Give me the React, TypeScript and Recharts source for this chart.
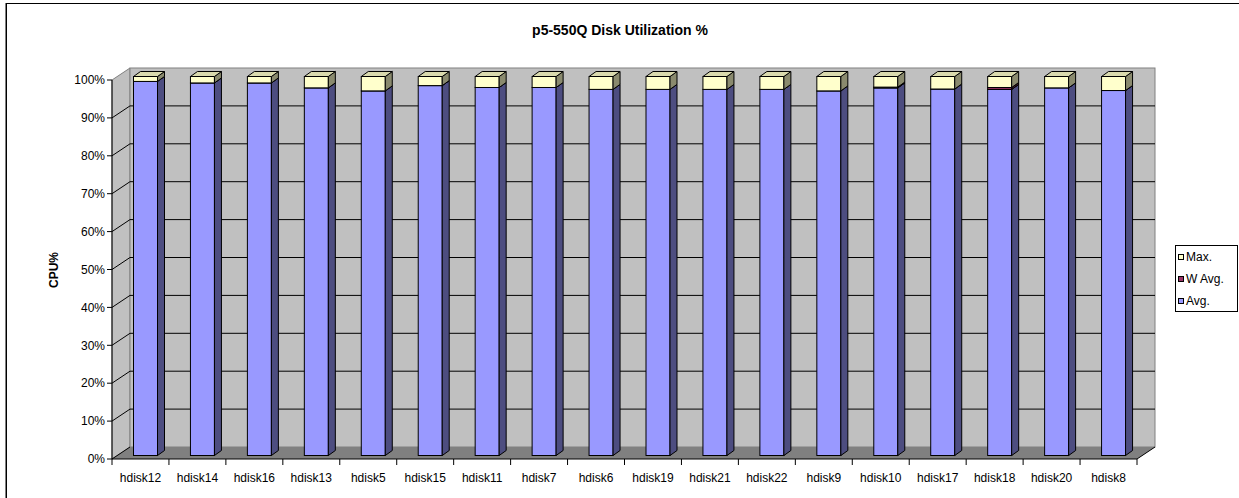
import React from 'react';
import { BarChart, Bar, XAxis, YAxis, CartesianGrid, Customized } from 'recharts';

const categories = ['hdisk12', 'hdisk14', 'hdisk16', 'hdisk13', 'hdisk5', 'hdisk15', 'hdisk11', 'hdisk7', 'hdisk6', 'hdisk19', 'hdisk21', 'hdisk22', 'hdisk9', 'hdisk10', 'hdisk17', 'hdisk18', 'hdisk20', 'hdisk8'];
const avgValues = [98.7, 98.3, 98.3, 97.0, 96.2, 97.6, 97.1, 97.1, 96.6, 96.6, 96.6, 96.6, 96.2, 97.0, 96.7, 96.6, 97.0, 96.3];
const wavgValues = [0, 0, 0, 0, 0, 0, 0, 0, 0, 0, 0, 0, 0, 0.2, 0, 0.5, 0, 0];
const maxValues = [1.3, 1.7, 1.7, 3.0, 3.8, 2.4, 2.9, 2.9, 3.4, 3.4, 3.4, 3.4, 3.8, 2.8, 3.3, 2.9, 3.0, 3.7];
const yTicks = [0, 10, 20, 30, 40, 50, 60, 70, 80, 90, 100];

const seriesInfo = [
  { key: 'max', name: 'Max.', front: '#FFFFCC', side: '#8A8A6E', top: '#DADAAE' },
  { key: 'wavg', name: 'W Avg.', front: '#993366', side: '#4D1A33', top: '#7A2952' },
  { key: 'avg', name: 'Avg.', front: '#9999FF', side: '#4D4D80', top: '#7A7ACC' },
];

const data = categories.map((name, i) => ({ name, avg: avgValues[i], wavg: wavgValues[i], max: maxValues[i] }));

const W = 1239;
const H = 498;
const YAXIS_W = 60;
const XAXIS_H = 30;
const X0 = 112;
const X1 = 1137;
const Y0 = 80;
const Y1 = 459;
const M = { top: Y0, right: W - X1, bottom: H - Y1 - XAXIS_H, left: X0 - YAXIS_W };
const DX = 18;
const DY = 12;
const BX = 5.5;
const BY = 3.5;
const SD = 7;
const SE = 5;
const FONT = '"Liberation Sans", Arial, sans-serif';
const FS = 12;

const Walls = () => (
  <g>
    <polygon points={`${X0},${Y0} ${X0 + DX},${Y0 - DY} ${X0 + DX},${Y1 - DY} ${X0},${Y1}`} fill="#C0C0C0" stroke="#808080" />
    <rect x={X0 + DX} y={Y0 - DY} width={X1 - X0} height={Y1 - Y0} fill="#C0C0C0" stroke="#808080" />
    <polygon points={`${X0},${Y1} ${X0 + DX},${Y1 - DY} ${X1 + DX},${Y1 - DY} ${X1},${Y1}`} fill="#808080" stroke="none" />
    <line x1={X1} y1={Y1} x2={X1 + DX} y2={Y1 - DY} stroke="#000" />
    <line x1={X0} y1={Y1} x2={X0 + DX} y2={Y1 - DY} stroke="#000" />
  </g>
);

const Overlay = () => (
  <g fontFamily={FONT}>
    <rect x={6} y={3.5} width={1300} height={600} fill="none" stroke="#000" strokeWidth={1} />
    <line x1={6.5} y1={3} x2={6.5} y2={H} stroke="#000" strokeWidth={1} />
    <text x={620} y={35} textAnchor="middle" fontWeight="bold" fontSize={14} fill="#000">p5-550Q Disk Utilization %</text>
    <text x={58} y={270} textAnchor="middle" fontWeight="bold" fontSize={FS} fill="#000" transform="rotate(-90 58 270)">CPU%</text>
    <rect x={1175.5} y={245.5} width={62} height={66} fill="#fff" stroke="#000" />
    {seriesInfo.map((s, i) => (
      <g key={s.key}>
        <rect x={1178.5} y={254.5 + i * 22} width={5} height={5} fill={s.front} stroke="#000" />
        <text x={1186} y={257 + i * 22} dy="0.355em" fontSize={FS} fill="#000">{s.name}</text>
      </g>
    ))}
  </g>
);

const makeShape = (front: string, side: string, top: string) => (props: any) => {
  const { x, y, width, height } = props;
  if (!height || height <= 0) return <g />;
  const sx = x + BX;
  const sy = y - BY;
  return (
    <g>
      <rect x={sx} y={sy} width={width} height={height} fill={front} stroke="#000" strokeWidth={1} />
      <polygon points={`${sx + width},${sy} ${sx + width + SD},${sy - SE} ${sx + width + SD},${sy + height - SE} ${sx + width},${sy + height}`} fill={side} stroke="#000" strokeWidth={1} />
      <polygon points={`${sx},${sy} ${sx + SD},${sy - SE} ${sx + width + SD},${sy - SE} ${sx + width},${sy}`} fill={top} stroke="#000" strokeWidth={1} />
    </g>
  );
};

const gridLine = (props: any) => {
  const { x1, y1, x2, index } = props;
  const isEdge = Math.abs(y1 - Y1) < 1 || Math.abs(y1 - Y0) < 1;
  return (
    <g key={`g${index}`}>
      {index === 0 && <Walls />}
      {!isEdge && (
        <polyline points={`${x1},${y1} ${x1 + DX},${y1 - DY} ${x2 + DX},${y1 - DY}`} fill="none" stroke="#000" strokeWidth={1} />
      )}
    </g>
  );
};

const band = (X1 - X0) / categories.length;

const XTick = (props: any) => {
  const { x, payload, index } = props;
  return (
    <g>
      <line x1={x - band / 2} y1={Y1} x2={x - band / 2} y2={Y1 + 6} stroke="#000" />
      {index === categories.length - 1 && <line x1={x + band / 2} y1={Y1} x2={x + band / 2} y2={Y1 + 6} stroke="#000" />}
      <text x={x} y={Y1 + 23} textAnchor="middle" fontSize={FS} fontFamily={FONT} fill="#000">{payload.value}</text>
    </g>
  );
};

export default function App() {
  const avgS = seriesInfo[2];
  const wS = seriesInfo[1];
  const mS = seriesInfo[0];
  return (
    <div style={{ position: 'absolute', left: 0, top: 0, width: W, height: H, background: '#fff' }}>
      <BarChart width={W} height={H} data={data} margin={M} barSize={24}>
        <CartesianGrid vertical={false} horizontal={gridLine} />
        <XAxis dataKey="name" interval={0} height={XAXIS_H} tickLine={false} axisLine={{ stroke: '#000' }} tick={<XTick />} />
        <YAxis
          width={YAXIS_W}
          domain={[0, 100]}
          ticks={yTicks}
          tickFormatter={(v: number) => `${v}%`}
          axisLine={{ stroke: '#000' }}
          tickLine={{ stroke: '#000' }}
          tickSize={5}
          tick={{ fill: '#000', fontSize: FS, fontFamily: FONT }}
        />
        <Bar dataKey="avg" name={avgS.name} stackId="s" isAnimationActive={false} shape={makeShape(avgS.front, avgS.side, avgS.top)} />
        <Bar dataKey="wavg" name={wS.name} stackId="s" isAnimationActive={false} shape={makeShape(wS.front, wS.side, wS.top)} />
        <Bar dataKey="max" name={mS.name} stackId="s" isAnimationActive={false} shape={makeShape(mS.front, mS.side, mS.top)} />
        <Customized component={<Overlay />} />
      </BarChart>
    </div>
  );
}
